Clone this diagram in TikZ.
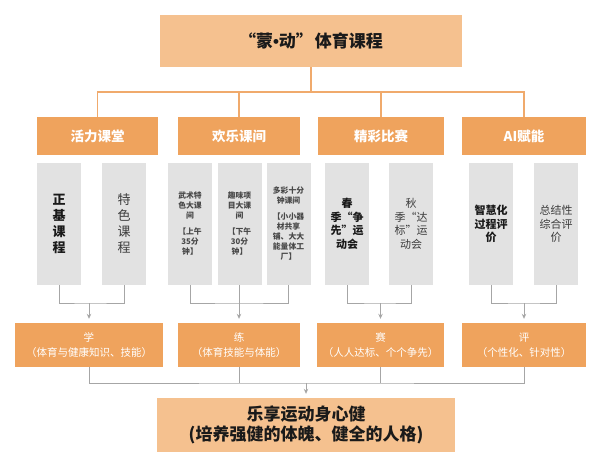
\documentclass[tikz,border=0pt]{standalone}
\usepackage{fontspec}
\newfontfamily\cjk{Noto Sans CJK SC}
\newfontfamily\latn{Liberation Sans}
\usetikzlibrary{arrows.meta}
\definecolor{hdr}{HTML}{EFA35D}
\definecolor{lite}{HTML}{F5C18F}
\definecolor{grayb}{HTML}{E2E2E2}
\definecolor{oline}{HTML}{F0AA6C}
\definecolor{gline}{HTML}{A6A6A6}
\definecolor{txt}{HTML}{1A1A1A}
\tikzset{
  box/.style={inner sep=0pt, align=center, text=txt},
  topbox/.style={box, fill=lite, minimum height=52pt, font={\cjk\bfseries\fontsize{17}{21}\selectfont}},
  catbox/.style={box, fill=hdr, minimum height=38pt, text=white, font={\cjk\bfseries\fontsize{13.5}{16}\selectfont}},
  graybox/.style={box, fill=grayb, minimum width=44pt, minimum height=122pt},
  botbox/.style={box, fill=hdr, minimum height=44pt, text=white, font={\cjk\fontsize{10.5}{15}\selectfont}},
  finbox/.style={box, fill=lite, minimum height=54pt, font={\cjk\bfseries\fontsize{17}{20.5}\selectfont}},
  bigv/.style={font={\cjk\bfseries\fontsize{13}{16}\selectfont}},
  bigvl/.style={font={\cjk\fontsize{13}{16}\selectfont}, text=txt!85},
  tiny/.style={font={\cjk\bfseries\fontsize{7.8}{10}\selectfont}, text=txt!80},
  mid/.style={font={\cjk\bfseries\fontsize{11}{13.5}\selectfont}},
  midl/.style={font={\cjk\fontsize{11}{13.5}\selectfont}, text=txt!85},
  oconn/.style={draw=oline, line width=1.6pt},
  gconn/.style={draw=gline, line width=0.8pt},
  garrow/.style={gconn, -{Stealth[length=5pt,width=4.5pt]}, shorten >=4pt},
}
\begin{document}
\begin{tikzpicture}[x=1pt,y=-1pt]
\useasboundingbox (0,0) rectangle (600,466);
% top
\node[topbox, minimum width=302pt] (top) at (311,41) {“蒙{\latn\bfseries •}动”\hspace{2pt}体育课程};
% categories
\node[catbox, minimum width=121pt] (c1) at (97.5,136) {活力课堂};
\node[catbox, minimum width=122pt] (c2) at (239,136) {欢乐课间};
\node[catbox, minimum width=126pt] (c3) at (381,136) {精彩比赛};
\node[catbox, minimum width=124pt] (c4) at (524,136) {AI赋能};
\coordinate (hub) at (311,92);
\draw[oconn] (top.south) -- (hub);
\draw[oconn] (c1.north) |- (hub) -| (c4.north);
\draw[oconn] (c2.north) -- (c2.north |- hub);
\draw[oconn] (c3.north) -- (c3.north |- hub);
% gray boxes
\node[graybox, bigv] (g1) at (59,224) {正\\基\\课\\程};
\node[graybox, bigvl] (g2) at (124,224) {特\\色\\课\\程};
\node[graybox, tiny] (g3) at (190,224) {武术特\\色大课\\间\\[6pt]【上午\\35分\\钟】};
\node[graybox, tiny] (g4) at (239.5,224) {趣味项\\目大课\\间\\[6pt]【下午\\30分\\钟】};
\node[graybox, tiny] (g5) at (288.5,224) {多彩十分\\钟课间\\[6pt]【小小器\\材共享\\铺、大大\\能量体工\\厂】};
\node[graybox, mid] (g6) at (347,224) {春\\季“争\\先”运\\动会};
\node[graybox, midl] (g7) at (411,224) {秋\\季“达\\标”运\\动会};
\node[graybox, mid] (g8) at (491,224) {智慧化\\过程评\\价};
\node[graybox, midl] (g9) at (556,224) {总结性\\综合评\\价};
% bottom boxes
\node[botbox, minimum width=148pt] (b1) at (89,345) {学\\（体育与健康知识、技能）};
\node[botbox, minimum width=122pt] (b2) at (239,345) {练\\（体育技能与体能）};
\node[botbox, minimum width=127pt] (b3) at (380.5,345) {赛\\（人人达标、个个争先）};
\node[botbox, minimum width=124pt] (b4) at (524,345) {评\\（个性化、针对性）};
% gray brackets
\coordinate (k1) at (89,303);
\coordinate (k2) at (239,303);
\coordinate (k3) at (380.5,303);
\coordinate (k4) at (524,303);
\draw[gconn] (g1.south) |- (k1) -| (g2.south);
\draw[garrow] (k1) -- (b1.north);
\draw[gconn] (g3.south) |- (k2) -| (g5.south);
\draw[gconn] (g4.south) -- (g4.south |- k2);
\draw[garrow] (k2) -- (b2.north);
\draw[gconn] (g6.south) |- (k3) -| (g7.south);
\draw[garrow] (k3) -- (b3.north);
\draw[gconn] (g8.south) |- (k4) -| (g9.south);
\draw[garrow] (k4) -- (b4.north);
% final
\node[finbox, minimum width=298pt] (fin) at (306,425) {乐享运动身心健\\(培养强健的体魄、健全的人格)};
\coordinate (hub2) at (306,383);
\draw[gconn] (b1.south) |- (hub2) -| (b4.south);
\draw[gconn] (b2.south) -- (b2.south |- hub2);
\draw[gconn] (b3.south) -- (b3.south |- hub2);
\draw[garrow] (hub2) -- (fin.north);
\end{tikzpicture}
\end{document}
